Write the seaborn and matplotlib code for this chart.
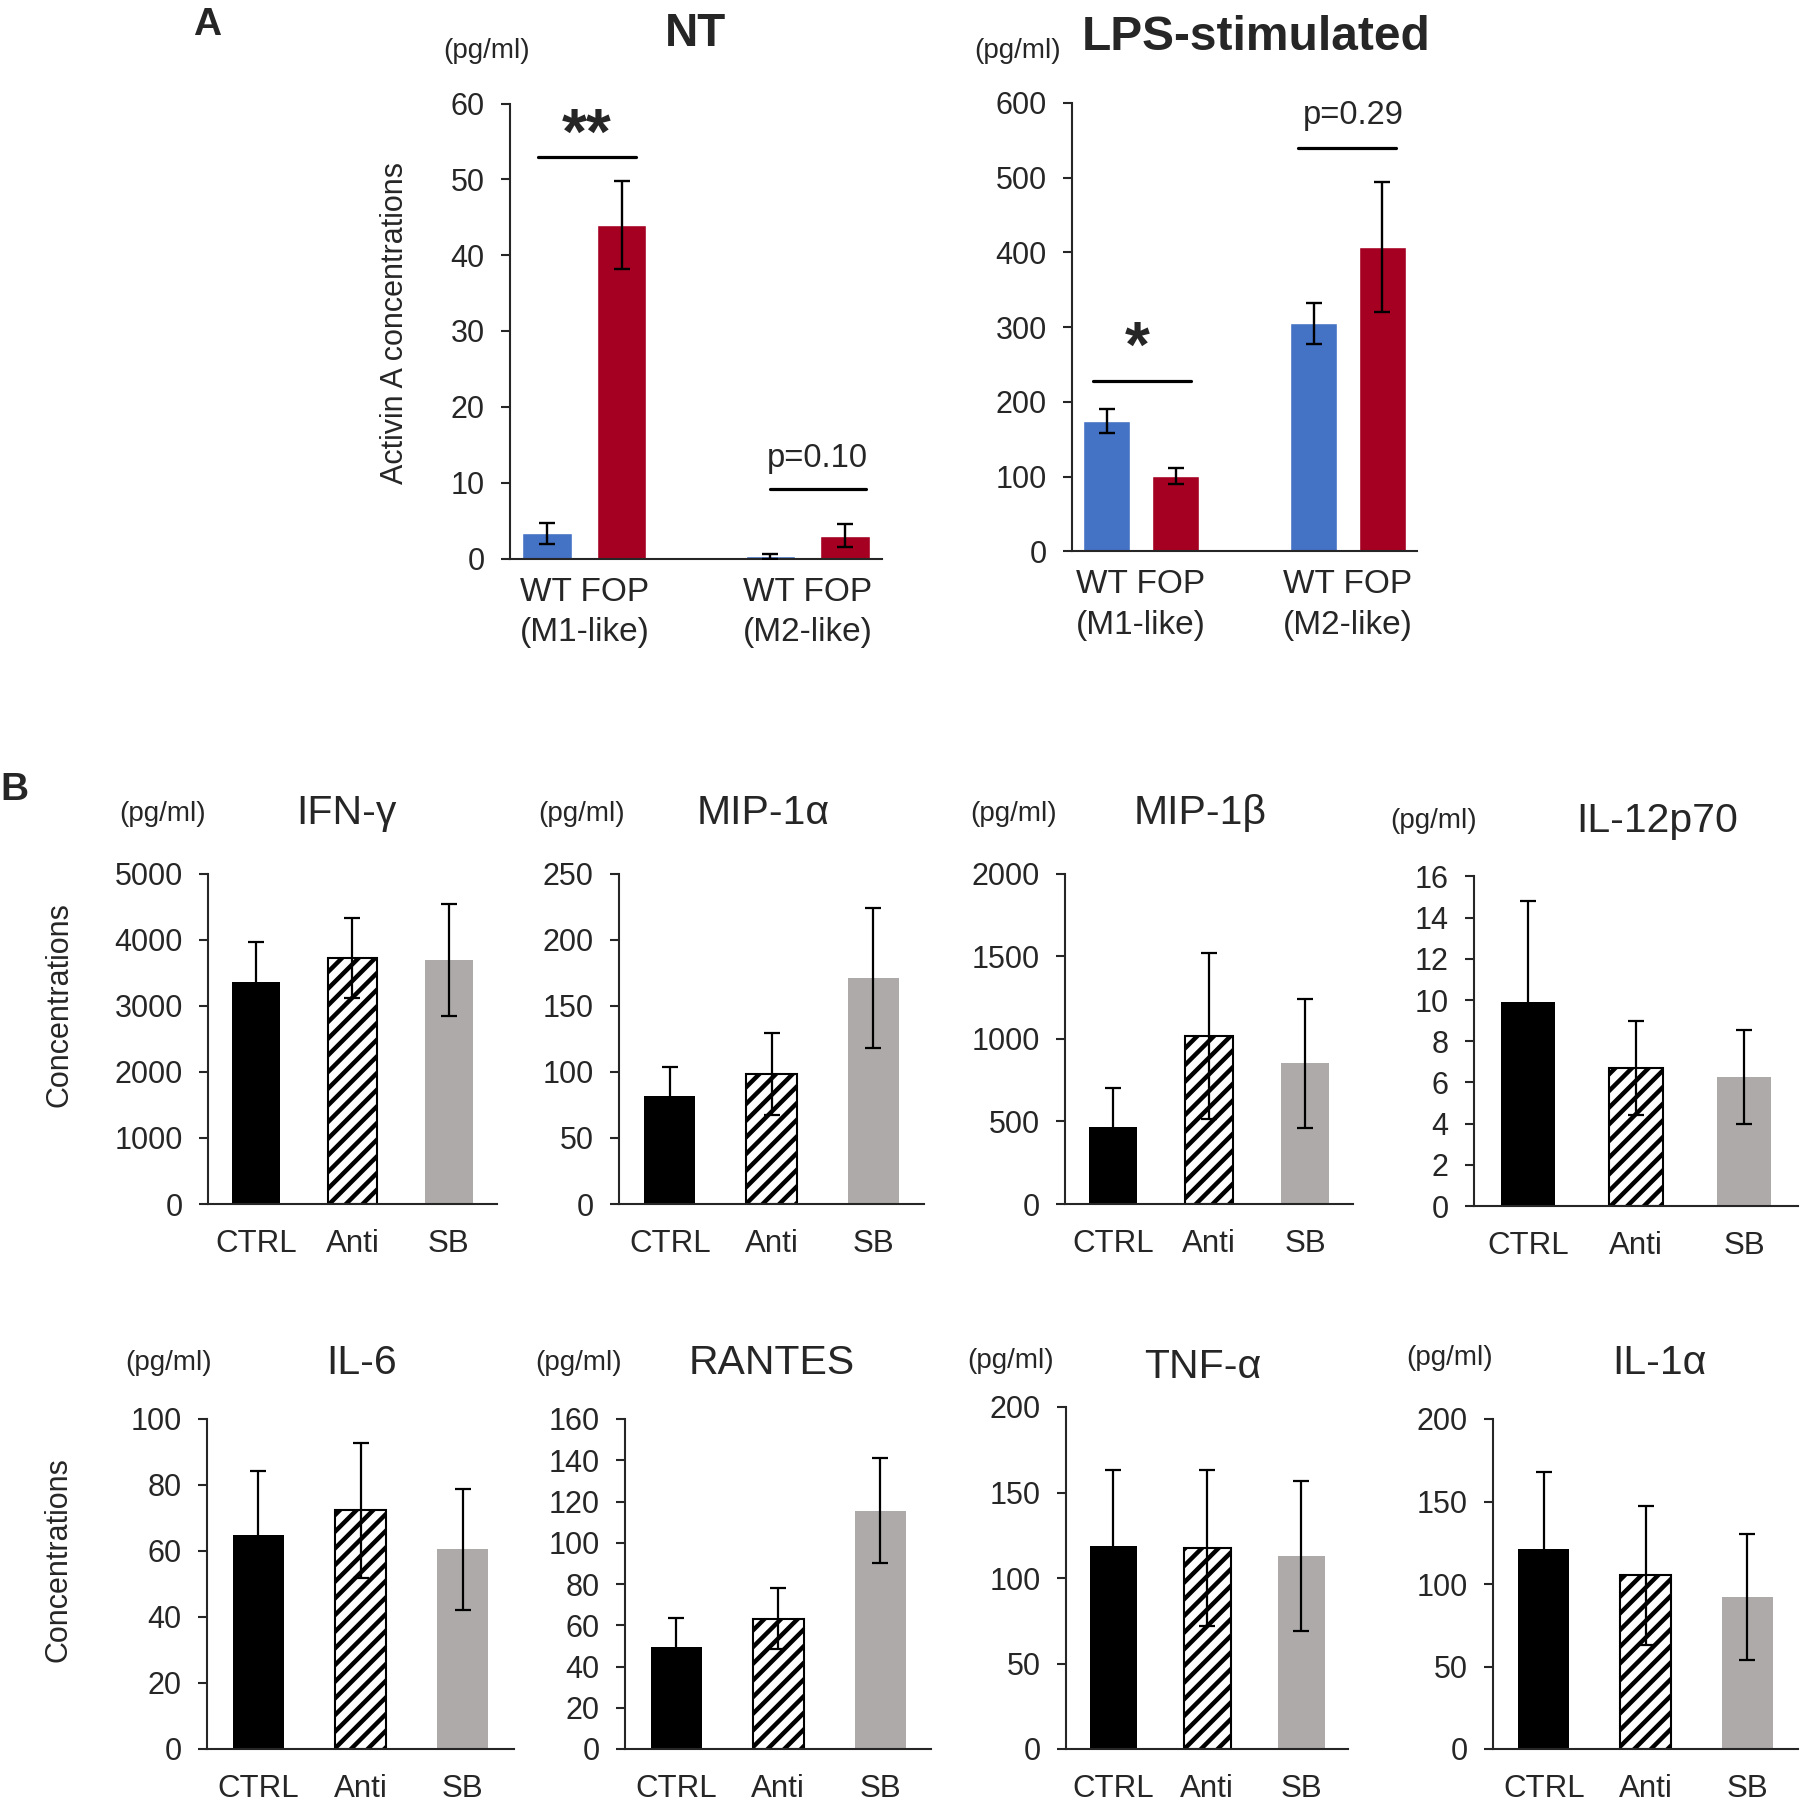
import numpy as np
import pandas as pd
import matplotlib
matplotlib.use("Agg")
import matplotlib.pyplot as plt
import seaborn as sns

sns.set_style("ticks")
plt.rcParams['font.family'] = ['Liberation Sans', 'DejaVu Sans']
plt.rcParams['hatch.linewidth'] = 3.2
plt.rcParams['axes.linewidth'] = 1.5

# ---- panel A data (Activin A, pg/ml) ----
a_cats = ["WT M1", "FOP M1", "gap", "WT M2", "FOP M2"]
a_geno = ["WT", "FOP", "WT", "FOP"]
a_bars = ["WT M1", "FOP M1", "WT M2", "FOP M2"]
nt_means = [3.3, 44.0, 0.3, 3.0]
nt_err = [1.4, 5.8, 0.3, 1.5]
lps_means = [174, 101, 305, 407]
lps_err = [16, 11, 28, 87]
a_ticklabels = ["WT FOP\n(M1-like)", "WT FOP\n(M2-like)"]

# ---- panel B data (pg/ml) ----
b_groups = ["CTRL", "Anti", "SB"]
ifn = [3355, 3716, 3690]
ifn_err = [610, 605, 845]
mip1a = [81.5, 98.2, 170.9]
mip1a_err = [22, 31, 52.7]
mip1b = [465, 1017, 851]
mip1b_err = [235, 505, 390]
il12 = [9.92, 6.72, 6.26]
il12_err = [4.9, 2.28, 2.28]
il6 = [64.9, 72.3, 60.5]
il6_err = [19.4, 20.5, 18.3]
rantes = [49.4, 63.2, 115.5]
rantes_err = [14.1, 14.8, 25.4]
tnf = [118.8, 117.6, 112.9]
tnf_err = [44.1, 45.5, 44.0]
il1a = [121.3, 105.2, 92.1]
il1a_err = [46.7, 42.1, 38.3]

W, H = 1800, 1797
fig = plt.figure(figsize=(W / 100, H / 100), dpi=100)


def px_axes(left, right, top, bottom):
    return fig.add_axes([left / W, 1 - bottom / H, (right - left) / W, (bottom - top) / H])


def ftxt(x, y, s, **kw):
    fig.text(x / W, 1 - y / H, s, **kw)


def style_axis(ax, ymax, step, ytick_size, xlab_size, xpad, ncat):
    ax.set_xlim(-0.5, ncat - 0.5)
    ax.set_ylim(0, ymax)
    ax.set_yticks(np.arange(0, ymax + step * 0.01, step))
    sns.despine(ax=ax)
    ax.tick_params(axis='y', direction='out', length=6.2, width=1.5, pad=12, labelsize=ytick_size)
    ax.tick_params(axis='x', length=0, pad=xpad, labelsize=xlab_size)
    ax.set_xlabel("")
    ax.set_ylabel("")


def panel_a(ax, means, errs, ymax, step):
    df = pd.DataFrame({"cond": a_bars, "val": means, "geno": a_geno})
    sns.barplot(data=df, x="cond", y="val", hue="geno", order=a_cats, dodge=False,
                palette={"WT": "#4472C4", "FOP": "#A50021"}, width=0.667,
                legend=False, ax=ax, saturation=1)
    ax.errorbar([0, 1, 3, 4], means, yerr=errs, fmt='none', ecolor='black',
                elinewidth=1.7, capsize=5.5, capthick=1.7, zorder=5)
    style_axis(ax, ymax, step, 22, 24, 13, len(a_cats))
    ax.set_xticks([0.5, 3.5])
    ax.set_xticklabels(a_ticklabels, linespacing=1.4)


def panel_b(ax, vals, errs, ymax, step):
    df = pd.DataFrame({"grp": b_groups, "val": vals})
    sns.barplot(data=df, x="grp", y="val", hue="grp", order=b_groups,
                palette=["black", "white", "#AEAAAA"], width=0.5,
                legend=False, ax=ax, saturation=1)
    for i, p in enumerate(ax.patches):
        if i == 1:
            p.set_hatch('//')
            p.set_edgecolor('black')
            p.set_linewidth(1.5)
        else:
            p.set_linewidth(0)
    ax.errorbar(range(3), vals, yerr=errs, fmt='none', ecolor='black',
                elinewidth=1.6, capsize=5.5, capthick=1.6, zorder=5)
    style_axis(ax, ymax, step, 22, 22.5, 18, len(b_groups))


# ---- panel A ----
ax_nt = px_axes(510, 882, 103.5, 558.5)
panel_a(ax_nt, nt_means, nt_err, 60, 10)
ax_nt.set_ylabel("Activin A concentrations", fontsize=22)
ax_nt.yaxis.set_label_coords(-0.27, 0.518)
ax_nt.plot([-0.12, 1.19], [52.9, 52.9], color='black', lw=2.3)
ax_nt.text(0.53, 55.6, "**", ha='center', va='center', fontsize=46, fontweight='bold')
ax_nt.plot([2.99, 4.29], [9.1, 9.1], color='black', lw=2.3)
ax_nt.text(3.63, 12.0, "p=0.10", ha='center', va='baseline', fontsize=23.5)

ax_lps = px_axes(1072, 1417, 103, 551.4)
panel_a(ax_lps, lps_means, lps_err, 600, 100)
ax_lps.plot([-0.19, 1.22], [228, 228], color='black', lw=2.3)
ax_lps.text(0.45, 270, "*", ha='center', va='center', fontsize=46, fontweight='bold')
ax_lps.plot([2.78, 4.2], [539.6, 539.6], color='black', lw=2.3)
ax_lps.text(3.57, 571.6, "p=0.29", ha='center', va='baseline', fontsize=23.5)

ftxt(207, 35, "A", ha='center', va='baseline', fontsize=28, fontweight='bold')
ftxt(696, 46.4, "NT", ha='center', va='baseline', fontsize=33, fontweight='bold')
ftxt(487, 58, "(pg/ml)", ha='center', va='baseline', fontsize=20)
ftxt(1256, 50, "LPS-stimulated", ha='center', va='baseline', fontsize=34.5, fontweight='bold')
ftxt(1018, 58, "(pg/ml)", ha='center', va='baseline', fontsize=20)

# ---- panel B ----
ftxt(0, 800, "B", ha='left', va='baseline', fontsize=28, fontweight='bold')

b_panels = [
    # (vals, errs, ymax, step, left, right, top, bottom, title, tx, ty, ux, uy)
    (ifn, ifn_err, 5000, 1000, 208, 497, 873.6, 1204, "IFN-γ", 346, 824.5, 163, 821),
    (mip1a, mip1a_err, 250, 50, 619, 924, 873.6, 1204, "MIP-1α", 763, 824.5, 582, 821),
    (mip1b, mip1b_err, 2000, 500, 1065, 1353, 873.6, 1204, "MIP-1β", 1200, 824.5, 1014, 821),
    (il12, il12_err, 16, 2, 1474, 1798, 876.4, 1206, "IL-12p70", 1657, 831.5, 1434, 828),
    (il6, il6_err, 100, 20, 207, 514, 1419, 1749, "IL-6", 362, 1374, 169, 1370),
    (rantes, rantes_err, 160, 20, 625, 931, 1419, 1749, "RANTES", 772, 1374, 579, 1370),
    (tnf, tnf_err, 200, 50, 1066, 1348, 1407, 1749, "TNF-α", 1203, 1378, 1011, 1368.5),
    (il1a, il1a_err, 200, 50, 1493, 1798, 1419, 1749, "IL-1α", 1659, 1374, 1450, 1365),
]

for k, (vals, errs, ymax, step, l, r, t, b, title, tx, ty, ux, uy) in enumerate(b_panels):
    ax = px_axes(l, r, t, b)
    panel_b(ax, vals, errs, ymax, step)
    ftxt(tx, ty, title, ha='center', va='baseline', fontsize=29.5)
    ftxt(ux, uy, "(pg/ml)", ha='center', va='baseline', fontsize=20)
    if k in (0, 4):
        ax.set_ylabel("Concentrations", fontsize=22)
        ax.yaxis.set_label_coords((74 - l) / (r - l), (b - (1005 if k == 0 else 1560)) / (b - t))

fig.savefig("out.png", dpi=100)
